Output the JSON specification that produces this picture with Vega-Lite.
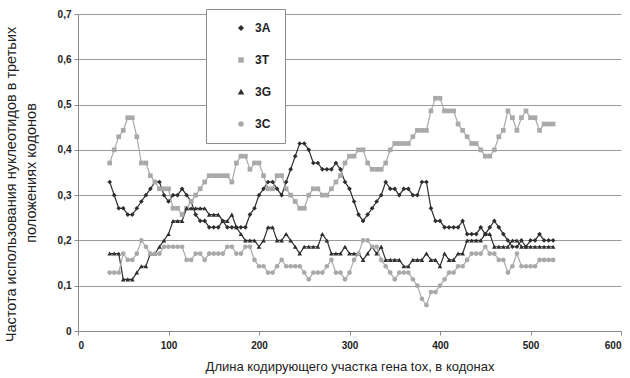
{
  "$schema": "https://vega.github.io/schema/vega-lite/v6.json",
  "width": 543,
  "height": 317,
  "autosize": {"type": "none"},
  "padding": {"left": 78, "top": 14, "right": 9, "bottom": 47},
  "background": "white",
  "title": {
    "text": "Частота использования нуклеотидов в третьих",
    "orient": "left",
    "anchor": "middle",
    "frame": "group",
    "offset": 4,
    "dx": -12,
    "fontSize": 14.5,
    "fontWeight": "normal",
    "color": "#222222"
  },
  "config": {
    "font": "Liberation Sans",
    "view": {"stroke": null},
    "legend": {
      "title": null,
      "orient": "none",
      "legendX": 128,
      "legendY": -5,
      "fillColor": "white",
      "strokeColor": "#8c8c8c",
      "padding": 13,
      "rowPadding": 20,
      "symbolOffset": 16,
      "symbolSize": 16,
      "labelFontSize": 12,
      "labelFontWeight": "bold",
      "labelColor": "#222222",
      "labelOffset": 8
    }
  },
  "data": {
    "values": [
      {"c": 35, "3A": 0.329, "3T": 0.371, "3G": 0.171, "3C": 0.129},
      {"c": 40, "3A": 0.3, "3T": 0.4, "3G": 0.171, "3C": 0.129},
      {"c": 45, "3A": 0.271, "3T": 0.429, "3G": 0.171, "3C": 0.129},
      {"c": 50, "3A": 0.271, "3T": 0.443, "3G": 0.114, "3C": 0.171},
      {"c": 55, "3A": 0.257, "3T": 0.471, "3G": 0.114, "3C": 0.157},
      {"c": 60, "3A": 0.257, "3T": 0.471, "3G": 0.114, "3C": 0.157},
      {"c": 65, "3A": 0.271, "3T": 0.429, "3G": 0.129, "3C": 0.171},
      {"c": 70, "3A": 0.286, "3T": 0.371, "3G": 0.143, "3C": 0.2},
      {"c": 75, "3A": 0.3, "3T": 0.371, "3G": 0.143, "3C": 0.186},
      {"c": 80, "3A": 0.314, "3T": 0.343, "3G": 0.171, "3C": 0.171},
      {"c": 85, "3A": 0.329, "3T": 0.329, "3G": 0.171, "3C": 0.171},
      {"c": 90, "3A": 0.329, "3T": 0.314, "3G": 0.186, "3C": 0.171},
      {"c": 95, "3A": 0.3, "3T": 0.314, "3G": 0.2, "3C": 0.186},
      {"c": 100, "3A": 0.286, "3T": 0.314, "3G": 0.214, "3C": 0.186},
      {"c": 105, "3A": 0.3, "3T": 0.271, "3G": 0.243, "3C": 0.186},
      {"c": 110, "3A": 0.3, "3T": 0.271, "3G": 0.243, "3C": 0.186},
      {"c": 115, "3A": 0.314, "3T": 0.257, "3G": 0.243, "3C": 0.186},
      {"c": 120, "3A": 0.3, "3T": 0.271, "3G": 0.271, "3C": 0.157},
      {"c": 125, "3A": 0.286, "3T": 0.286, "3G": 0.271, "3C": 0.157},
      {"c": 130, "3A": 0.257, "3T": 0.3, "3G": 0.271, "3C": 0.171},
      {"c": 135, "3A": 0.243, "3T": 0.314, "3G": 0.271, "3C": 0.171},
      {"c": 140, "3A": 0.243, "3T": 0.329, "3G": 0.271, "3C": 0.157},
      {"c": 145, "3A": 0.229, "3T": 0.343, "3G": 0.257, "3C": 0.171},
      {"c": 150, "3A": 0.229, "3T": 0.343, "3G": 0.257, "3C": 0.171},
      {"c": 155, "3A": 0.229, "3T": 0.343, "3G": 0.257, "3C": 0.171},
      {"c": 160, "3A": 0.243, "3T": 0.343, "3G": 0.243, "3C": 0.171},
      {"c": 165, "3A": 0.229, "3T": 0.343, "3G": 0.243, "3C": 0.186},
      {"c": 170, "3A": 0.229, "3T": 0.329, "3G": 0.257, "3C": 0.186},
      {"c": 175, "3A": 0.229, "3T": 0.371, "3G": 0.229, "3C": 0.171},
      {"c": 180, "3A": 0.229, "3T": 0.386, "3G": 0.214, "3C": 0.171},
      {"c": 185, "3A": 0.229, "3T": 0.386, "3G": 0.2, "3C": 0.186},
      {"c": 190, "3A": 0.257, "3T": 0.357, "3G": 0.2, "3C": 0.186},
      {"c": 195, "3A": 0.271, "3T": 0.371, "3G": 0.2, "3C": 0.157},
      {"c": 200, "3A": 0.3, "3T": 0.371, "3G": 0.186, "3C": 0.143},
      {"c": 205, "3A": 0.314, "3T": 0.343, "3G": 0.2, "3C": 0.143},
      {"c": 210, "3A": 0.329, "3T": 0.314, "3G": 0.229, "3C": 0.129},
      {"c": 215, "3A": 0.329, "3T": 0.314, "3G": 0.229, "3C": 0.129},
      {"c": 220, "3A": 0.314, "3T": 0.343, "3G": 0.2, "3C": 0.143},
      {"c": 225, "3A": 0.3, "3T": 0.343, "3G": 0.2, "3C": 0.157},
      {"c": 230, "3A": 0.329, "3T": 0.314, "3G": 0.214, "3C": 0.143},
      {"c": 235, "3A": 0.357, "3T": 0.3, "3G": 0.2, "3C": 0.143},
      {"c": 240, "3A": 0.386, "3T": 0.286, "3G": 0.186, "3C": 0.143},
      {"c": 245, "3A": 0.414, "3T": 0.271, "3G": 0.171, "3C": 0.143},
      {"c": 250, "3A": 0.414, "3T": 0.271, "3G": 0.186, "3C": 0.129},
      {"c": 255, "3A": 0.4, "3T": 0.3, "3G": 0.186, "3C": 0.114},
      {"c": 260, "3A": 0.371, "3T": 0.314, "3G": 0.186, "3C": 0.129},
      {"c": 265, "3A": 0.371, "3T": 0.314, "3G": 0.186, "3C": 0.129},
      {"c": 270, "3A": 0.357, "3T": 0.3, "3G": 0.214, "3C": 0.129},
      {"c": 275, "3A": 0.357, "3T": 0.3, "3G": 0.2, "3C": 0.143},
      {"c": 280, "3A": 0.357, "3T": 0.314, "3G": 0.171, "3C": 0.157},
      {"c": 285, "3A": 0.371, "3T": 0.329, "3G": 0.171, "3C": 0.129},
      {"c": 290, "3A": 0.357, "3T": 0.343, "3G": 0.171, "3C": 0.129},
      {"c": 295, "3A": 0.329, "3T": 0.371, "3G": 0.186, "3C": 0.114},
      {"c": 300, "3A": 0.314, "3T": 0.386, "3G": 0.171, "3C": 0.129},
      {"c": 305, "3A": 0.286, "3T": 0.386, "3G": 0.171, "3C": 0.157},
      {"c": 310, "3A": 0.257, "3T": 0.4, "3G": 0.171, "3C": 0.171},
      {"c": 315, "3A": 0.243, "3T": 0.4, "3G": 0.157, "3C": 0.2},
      {"c": 320, "3A": 0.257, "3T": 0.371, "3G": 0.171, "3C": 0.2},
      {"c": 325, "3A": 0.271, "3T": 0.357, "3G": 0.186, "3C": 0.186},
      {"c": 330, "3A": 0.286, "3T": 0.357, "3G": 0.171, "3C": 0.186},
      {"c": 335, "3A": 0.3, "3T": 0.357, "3G": 0.186, "3C": 0.157},
      {"c": 340, "3A": 0.329, "3T": 0.371, "3G": 0.157, "3C": 0.143},
      {"c": 345, "3A": 0.314, "3T": 0.4, "3G": 0.157, "3C": 0.129},
      {"c": 350, "3A": 0.314, "3T": 0.414, "3G": 0.157, "3C": 0.114},
      {"c": 355, "3A": 0.3, "3T": 0.414, "3G": 0.157, "3C": 0.129},
      {"c": 360, "3A": 0.314, "3T": 0.414, "3G": 0.143, "3C": 0.129},
      {"c": 365, "3A": 0.314, "3T": 0.414, "3G": 0.143, "3C": 0.129},
      {"c": 370, "3A": 0.3, "3T": 0.429, "3G": 0.157, "3C": 0.114},
      {"c": 375, "3A": 0.3, "3T": 0.443, "3G": 0.157, "3C": 0.1},
      {"c": 380, "3A": 0.329, "3T": 0.443, "3G": 0.157, "3C": 0.071},
      {"c": 385, "3A": 0.329, "3T": 0.443, "3G": 0.171, "3C": 0.057},
      {"c": 390, "3A": 0.271, "3T": 0.486, "3G": 0.157, "3C": 0.086},
      {"c": 395, "3A": 0.243, "3T": 0.514, "3G": 0.157, "3C": 0.086},
      {"c": 400, "3A": 0.243, "3T": 0.514, "3G": 0.143, "3C": 0.1},
      {"c": 405, "3A": 0.229, "3T": 0.486, "3G": 0.171, "3C": 0.114},
      {"c": 410, "3A": 0.229, "3T": 0.486, "3G": 0.157, "3C": 0.129},
      {"c": 415, "3A": 0.229, "3T": 0.486, "3G": 0.157, "3C": 0.129},
      {"c": 420, "3A": 0.229, "3T": 0.457, "3G": 0.171, "3C": 0.143},
      {"c": 425, "3A": 0.243, "3T": 0.443, "3G": 0.171, "3C": 0.143},
      {"c": 430, "3A": 0.214, "3T": 0.429, "3G": 0.2, "3C": 0.157},
      {"c": 435, "3A": 0.214, "3T": 0.414, "3G": 0.2, "3C": 0.171},
      {"c": 440, "3A": 0.214, "3T": 0.414, "3G": 0.2, "3C": 0.171},
      {"c": 445, "3A": 0.229, "3T": 0.4, "3G": 0.2, "3C": 0.171},
      {"c": 450, "3A": 0.214, "3T": 0.386, "3G": 0.214, "3C": 0.186},
      {"c": 455, "3A": 0.229, "3T": 0.386, "3G": 0.214, "3C": 0.171},
      {"c": 460, "3A": 0.243, "3T": 0.4, "3G": 0.186, "3C": 0.171},
      {"c": 465, "3A": 0.229, "3T": 0.429, "3G": 0.186, "3C": 0.157},
      {"c": 470, "3A": 0.214, "3T": 0.443, "3G": 0.186, "3C": 0.157},
      {"c": 475, "3A": 0.2, "3T": 0.486, "3G": 0.186, "3C": 0.129},
      {"c": 480, "3A": 0.186, "3T": 0.471, "3G": 0.2, "3C": 0.143},
      {"c": 485, "3A": 0.186, "3T": 0.443, "3G": 0.2, "3C": 0.171},
      {"c": 490, "3A": 0.2, "3T": 0.471, "3G": 0.186, "3C": 0.143},
      {"c": 495, "3A": 0.186, "3T": 0.486, "3G": 0.186, "3C": 0.143},
      {"c": 500, "3A": 0.2, "3T": 0.471, "3G": 0.186, "3C": 0.143},
      {"c": 505, "3A": 0.2, "3T": 0.471, "3G": 0.186, "3C": 0.143},
      {"c": 510, "3A": 0.214, "3T": 0.443, "3G": 0.186, "3C": 0.157},
      {"c": 515, "3A": 0.2, "3T": 0.457, "3G": 0.186, "3C": 0.157},
      {"c": 520, "3A": 0.2, "3T": 0.457, "3G": 0.186, "3C": 0.157},
      {"c": 525, "3A": 0.2, "3T": 0.457, "3G": 0.186, "3C": 0.157}
    ]
  },
  "transform": [
    {"fold": ["3A", "3T", "3G", "3C"], "as": ["series", "share"]}
  ],
  "encoding": {
    "x": {
      "field": "c",
      "type": "quantitative",
      "scale": {"domain": [0, 600], "nice": false, "zero": true},
      "axis": {
        "values": [0, 100, 200, 300, 400, 500, 600],
        "grid": false,
        "domainColor": "#8c8c8c",
        "tickColor": "#8c8c8c",
        "tickSize": 4,
        "labelFontSize": 10,
        "labelFontWeight": "bold",
        "labelColor": "#222222",
        "labelPadding": 5,
        "title": "Длина кодирующего участка гена tox, в кодонах",
        "titleFontSize": 13,
        "titleFontWeight": "normal",
        "titleColor": "#222222",
        "titlePadding": 10
      }
    },
    "y": {
      "field": "share",
      "type": "quantitative",
      "scale": {"domain": [0, 0.7], "nice": false},
      "axis": {
        "values": [0, 0.1, 0.2, 0.3, 0.4, 0.5, 0.6, 0.7],
        "labelExpr": "datum.value == 0 ? '0' : replace(format(datum.value, '.1f'), '.', ',')",
        "grid": true,
        "gridColor": "#9a9a9a",
        "gridWidth": 1,
        "domainColor": "#8c8c8c",
        "tickColor": "#8c8c8c",
        "tickSize": 4,
        "labelFontSize": 10,
        "labelFontWeight": "bold",
        "labelColor": "#222222",
        "labelPadding": 3,
        "title": "положениях кодонов",
        "titleFontSize": 14.5,
        "titleFontWeight": "normal",
        "titleColor": "#222222",
        "titlePadding": 19
      }
    },
    "color": {
      "field": "series",
      "type": "nominal",
      "scale": {
        "domain": ["3A", "3T", "3G", "3C"],
        "range": ["#2e2e2e", "#a9a9a9", "#2e2e2e", "#a9a9a9"]
      }
    }
  },
  "layer": [
    {
      "mark": {"type": "line", "strokeWidth": 1.2},
      "encoding": {"detail": {"field": "series"}}
    },
    {
      "mark": {"type": "point", "filled": true, "size": 22, "opacity": 1},
      "encoding": {
        "shape": {
          "field": "series",
          "type": "nominal",
          "scale": {
            "domain": ["3A", "3T", "3G", "3C"],
            "range": ["diamond", "square", "triangle-up", "circle"]
          }
        }
      }
    }
  ]
}
